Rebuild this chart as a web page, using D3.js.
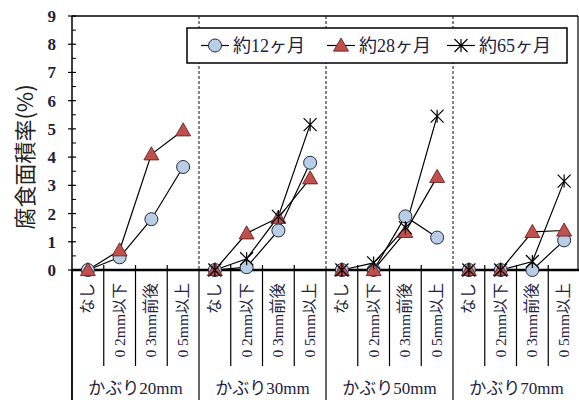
<!DOCTYPE html>
<html><head><meta charset="utf-8">
<script src="https://cdn.jsdelivr.net/npm/d3@7"></script>
<style>body{margin:0;background:#fff}svg{display:block}</style>
</head><body>
<svg id="c" width="579" height="400"></svg>
<script>
const groups = ["かぶり20mm","かぶり30mm","かぶり50mm","かぶり70mm"];
const categories = ["なし","0 2mm以下","0 3mm前後","0 5mm以上"];
const seriesNames = ["約12ヶ月","約28ヶ月","約65ヶ月"];
// values per group, per category
const s12 = [[0,0.45,1.8,3.65],[0,0.1,1.4,3.8],[0,0,1.9,1.15],[0,0,0,1.05]];
const s28 = [[0,0.7,4.1,4.95],[0,1.3,1.85,3.25],[0,0,1.35,3.3],[0,0,1.35,1.4]];
const s65 = [null,[0,0.4,1.9,5.15],[0,0.25,1.5,5.45],[0,0,0.3,3.15]];
const yTicks = [0,1,2,3,4,5,6,7,8,9];

const svg = d3.select("#c");
const L=72, R=578, T=16, B=270;
const keys = [];
groups.forEach((g,gi)=>categories.forEach((c,ci)=>keys.push(gi+"|"+ci)));
const x = d3.scaleBand().domain(keys).range([L,580]);
const y = d3.scaleLinear().domain([0,9]).range([B,T]);
const txtCol = "#1c2240";

// frame
svg.append("line").attr("x1",L).attr("x2",R).attr("y1",T).attr("y2",T).attr("stroke","#000").attr("stroke-width",1.5);
svg.append("line").attr("x1",R).attr("x2",R).attr("y1",T).attr("y2",B).attr("stroke","#000").attr("stroke-width",1.2);
// group dividers
groups.forEach((g,gi)=>{
  if(gi>0){
    const gx = x(gi+"|0");
    svg.append("line").attr("x1",gx).attr("x2",gx).attr("y1",T).attr("y2",B)
      .attr("stroke","#222").attr("stroke-width",1.1).attr("stroke-dasharray","3,2");
  }
  const gx0 = x(gi+"|0");
  svg.append("line").attr("x1",gx0).attr("x2",gx0).attr("y1",B).attr("y2",400).attr("stroke","#000").attr("stroke-width",1.2);
  // category boundary ticks
  for(let ci=1;ci<4;ci++){
    const bx = x(gi+"|"+ci);
    svg.append("line").attr("x1",bx).attr("x2",bx).attr("y1",B-5).attr("y2",366).attr("stroke","#000").attr("stroke-width",1.2);
  }
  // category labels
  categories.forEach((c,ci)=>{
    const cx = x(gi+"|"+ci)+x.bandwidth()/2;
    svg.append("text").attr("transform",`translate(${cx+5},283) rotate(-90)`)
      .attr("text-anchor","end").attr("font-family","'Liberation Serif','Noto Sans CJK JP',serif")
      .attr("font-size",15.5).attr("fill",txtCol).text(c);
  });
  const gc = x(gi+"|0") + x.bandwidth()*2;
  svg.append("text").attr("x",gc).attr("y",394).attr("text-anchor","middle")
    .attr("font-family","'Liberation Serif','Noto Sans CJK JP',serif").attr("font-size",17)
    .attr("fill",txtCol).text(g);
});

// y axis
svg.append("line").attr("x1",L).attr("x2",L).attr("y1",T).attr("y2",400).attr("stroke","#000").attr("stroke-width",1.5);
yTicks.forEach(t=>{
  svg.append("line").attr("x1",L-4).attr("x2",L+4).attr("y1",y(t)).attr("y2",y(t)).attr("stroke","#000").attr("stroke-width",1.2);
  if(t<9) svg.append("line").attr("x1",L).attr("x2",L+4).attr("y1",y(t+0.5)).attr("y2",y(t+0.5)).attr("stroke","#000").attr("stroke-width",1);
  svg.append("text").attr("x",56).attr("y",y(t)+6).attr("text-anchor","end")
    .attr("font-family","'Liberation Serif',serif").attr("font-weight","bold").attr("font-size",17)
    .attr("fill",txtCol).text(t);
});
svg.append("text").attr("transform","translate(33,157) rotate(-90)").attr("text-anchor","middle")
  .attr("font-family","'Noto Sans CJK JP',sans-serif").attr("font-size",22).attr("fill","#222").text("腐食面積率(%)");

// x axis line
svg.append("line").attr("x1",L).attr("x2",579).attr("y1",B).attr("y2",B).attr("stroke","#000").attr("stroke-width",2.5);

// markers
function marker(g, kind, cx, cy){
  if(kind===0){
    g.append("circle").attr("cx",cx).attr("cy",cy).attr("r",6.5).attr("fill","#b9cde5").attr("stroke","#1f2a44").attr("stroke-width",1);
  } else if(kind===1){
    const s=7.5;
    g.append("path").attr("d",`M${cx},${cy-s}L${cx+s},${cy+s*0.75}L${cx-s},${cy+s*0.75}Z`)
      .attr("fill","#c0504d").attr("stroke","#5a1a18").attr("stroke-width",0.8);
  } else {
    const s=6.5;
    g.append("path").attr("d",`M${cx-s},${cy-s}L${cx+s},${cy+s}M${cx-s},${cy+s}L${cx+s},${cy-s}M${cx},${cy-s}L${cx},${cy+s}`)
      .attr("stroke","#000").attr("stroke-width",1.2).attr("fill","none");
  }
}
const allSeries=[s12,s28,s65];
const line = d3.line().x(d=>d[0]).y(d=>d[1]);
const plot = svg.append("g");
allSeries.forEach((ser,si)=>{
  ser.forEach((vals,gi)=>{
    if(!vals) return;
    const pts = vals.map((v,ci)=>[x(gi+"|"+ci)+x.bandwidth()/2, y(v)]);
    plot.append("path").attr("d",line(pts)).attr("fill","none").attr("stroke","#000").attr("stroke-width",1.2);
  });
});
allSeries.forEach((ser,si)=>{
  ser.forEach((vals,gi)=>{
    if(!vals) return;
    vals.forEach((v,ci)=>marker(plot,si,x(gi+"|"+ci)+x.bandwidth()/2,y(v)));
  });
});

// legend
const lg = svg.append("g");
lg.append("rect").attr("x",187).attr("y",28).attr("width",380).attr("height",35).attr("fill","#fff").attr("stroke","#000").attr("stroke-width",1.5);
const lx = [201,327,447];
seriesNames.forEach((n,i)=>{
  lg.append("line").attr("x1",lx[i]).attr("x2",lx[i]+28).attr("y1",45.5).attr("y2",45.5).attr("stroke","#000").attr("stroke-width",1.2);
  marker(lg,i,lx[i]+14,45.5);
  lg.append("text").attr("x",lx[i]+32).attr("y",52).attr("font-family","'Liberation Serif','Noto Sans CJK JP',serif")
    .attr("font-size",18).attr("fill",txtCol).text(n);
});
</script>
</body></html>
